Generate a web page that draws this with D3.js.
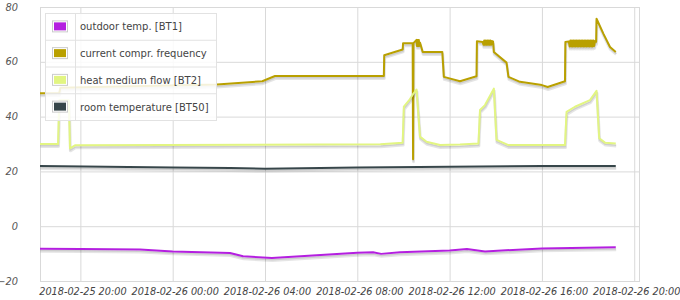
<!DOCTYPE html>
<html>
<head>
<meta charset="utf-8">
<script src="https://cdn.jsdelivr.net/npm/d3@7"></script>
<style>
  body { margin: 0; background: #fff; }
  svg text { font-family: "DejaVu Sans", Verdana, sans-serif; }
</style>
</head>
<body>
<script>
// chart values
var seriesNames = ["outdoor temp. [BT1]", "current compr. frequency", "heat medium flow [BT2]", "room temperature [BT50]"];
var yTicks = [-20, 0, 20, 40, 60, 80];
var xTicks = ["2018-02-25 20:00", "2018-02-26 00:00", "2018-02-26 04:00", "2018-02-26 08:00",
              "2018-02-26 12:00", "2018-02-26 16:00", "2018-02-26 20:00"];
var xDomain = ["2018-02-25 18:15", "2018-02-26 20:15"];

var outdoorTemp = [
  ["2018-02-25 18:15", -8.2], ["2018-02-25 20:00", -8.3], ["2018-02-25 22:35", -8.5],
  ["2018-02-26 00:00", -9.2], ["2018-02-26 02:29", -9.8], ["2018-02-26 03:03", -11.0],
  ["2018-02-26 04:18", -11.6], ["2018-02-26 08:00", -9.7], ["2018-02-26 08:41", -9.5],
  ["2018-02-26 09:02", -10.1], ["2018-02-26 09:51", -9.5], ["2018-02-26 12:00", -8.9],
  ["2018-02-26 12:45", -8.3], ["2018-02-26 13:32", -9.2], ["2018-02-26 16:00", -8.1],
  ["2018-02-26 19:12", -7.7]
];

var comprFrequency = [
  ["2018-02-25 18:15", 48.5], ["2018-02-25 19:05", 48.6], ["2018-02-25 19:08", 50.5],
  ["2018-02-26 01:55", 51.7], ["2018-02-26 03:53", 52.9], ["2018-02-26 04:26", 54.8],
  ["2018-02-26 09:09", 54.8], ["2018-02-26 09:10", 62.4], ["2018-02-26 09:58", 64.5],
  ["2018-02-26 09:59", 66.8], ["2018-02-26 10:24", 66.8], ["2018-02-26 10:25", 24.4],
  ["2018-02-26 10:26", 66.8], ["2018-02-26 10:34", 68.0], ["2018-02-26 10:35", 65.8],
  ["2018-02-26 10:36", 68.0], ["2018-02-26 10:37", 65.8], ["2018-02-26 10:38", 68.0],
  ["2018-02-26 10:39", 65.8], ["2018-02-26 10:40", 68.0], ["2018-02-26 10:41", 65.8],
  ["2018-02-26 10:43", 67.0],
  ["2018-02-26 10:50", 63.6], ["2018-02-26 11:41", 63.6], ["2018-02-26 11:45", 54.5],
  ["2018-02-26 12:27", 52.9], ["2018-02-26 13:10", 54.7], ["2018-02-26 13:11", 67.5],
  ["2018-02-26 13:26", 67.2], ["2018-02-26 13:28", 66.2], ["2018-02-26 13:30", 67.8],
  ["2018-02-26 13:32", 66.2], ["2018-02-26 13:34", 67.8], ["2018-02-26 13:36", 66.2],
  ["2018-02-26 13:38", 67.8], ["2018-02-26 13:40", 66.2], ["2018-02-26 13:42", 67.8],
  ["2018-02-26 13:44", 66.2], ["2018-02-26 13:46", 67.8], ["2018-02-26 13:48", 66.2],
  ["2018-02-26 13:50", 67.6], ["2018-02-26 13:52", 66.4], ["2018-02-26 13:53", 67.4],
  ["2018-02-26 13:55", 63.6], ["2018-02-26 14:28", 59.7], ["2018-02-26 14:33", 54.5],
  ["2018-02-26 15:03", 52.7], ["2018-02-26 16:00", 51.5], ["2018-02-26 16:15", 50.8],
  ["2018-02-26 17:00", 52.9], ["2018-02-26 17:01", 67.2], ["2018-02-26 17:10", 67.4],
  ["2018-02-26 17:12", 65.6], ["2018-02-26 17:14", 67.8], ["2018-02-26 17:16", 65.6],
  ["2018-02-26 17:18", 67.8], ["2018-02-26 17:20", 65.6], ["2018-02-26 17:22", 67.8],
  ["2018-02-26 17:24", 65.6], ["2018-02-26 17:26", 67.8], ["2018-02-26 17:28", 65.6],
  ["2018-02-26 17:30", 67.8], ["2018-02-26 17:32", 65.6], ["2018-02-26 17:34", 67.8],
  ["2018-02-26 17:36", 65.6], ["2018-02-26 17:38", 67.8], ["2018-02-26 17:40", 65.6],
  ["2018-02-26 17:42", 67.8], ["2018-02-26 17:44", 65.6], ["2018-02-26 17:46", 67.8],
  ["2018-02-26 17:48", 65.6], ["2018-02-26 17:50", 67.8], ["2018-02-26 17:52", 65.6],
  ["2018-02-26 17:54", 67.8], ["2018-02-26 17:56", 65.6], ["2018-02-26 17:58", 67.8],
  ["2018-02-26 18:00", 65.6], ["2018-02-26 18:02", 67.8], ["2018-02-26 18:04", 65.6],
  ["2018-02-26 18:06", 67.8], ["2018-02-26 18:08", 65.6], ["2018-02-26 18:10", 67.8],
  ["2018-02-26 18:12", 65.6], ["2018-02-26 18:14", 67.8], ["2018-02-26 18:16", 65.8],
  ["2018-02-26 18:18", 67.6], ["2018-02-26 18:21", 67.3], ["2018-02-26 18:22", 75.7],
  ["2018-02-26 18:40", 70.2], ["2018-02-26 18:57", 65.4], ["2018-02-26 19:12", 63.6]
];

var heatMediumFlow = [
  ["2018-02-25 18:15", 30.0], ["2018-02-25 19:02", 30.0], ["2018-02-25 19:05", 46.0],
  ["2018-02-25 19:30", 46.0], ["2018-02-25 19:33", 28.4], ["2018-02-25 19:46", 29.5],
  ["2018-02-26 09:00", 29.9], ["2018-02-26 09:58", 30.5], ["2018-02-26 10:01", 43.6],
  ["2018-02-26 10:15", 46.0], ["2018-02-26 10:24", 48.0], ["2018-02-26 10:34", 49.9],
  ["2018-02-26 10:43", 32.7], ["2018-02-26 11:00", 30.8], ["2018-02-26 11:35", 29.6],
  ["2018-02-26 12:27", 29.8], ["2018-02-26 13:15", 30.2], ["2018-02-26 13:19", 42.4],
  ["2018-02-26 13:32", 44.2], ["2018-02-26 13:55", 50.2], ["2018-02-26 14:02", 31.5],
  ["2018-02-26 14:33", 29.6], ["2018-02-26 17:00", 29.6], ["2018-02-26 17:04", 41.7],
  ["2018-02-26 17:26", 43.6], ["2018-02-26 18:05", 46.0], ["2018-02-26 18:22", 49.4],
  ["2018-02-26 18:29", 32.1], ["2018-02-26 18:44", 30.5], ["2018-02-26 19:12", 30.2]
];

var roomTemp = [
  ["2018-02-25 18:15", 22.0], ["2018-02-26 00:00", 21.4], ["2018-02-26 02:30", 21.2],
  ["2018-02-26 04:00", 21.0], ["2018-02-26 08:00", 21.4], ["2018-02-26 12:00", 21.7],
  ["2018-02-26 16:00", 22.0], ["2018-02-26 19:12", 22.0]
];

var seriesColors = ["#b41fe0", "#b9a000", "#e2f582", "#37464a"];

// dimensions
var svg_Width = 680;
var svg_Height = 300;
var margin = { top: 7, right: 40, bottom: 19, left: 40 };
var chart_Width = svg_Width - margin.left - margin.right;
var chart_Height = svg_Height - margin.top - margin.bottom;

var parseTime = d3.timeParse("%Y-%m-%d %H:%M");

var svg = d3.select("body")
  .append("svg")
  .attr("width", svg_Width)
  .attr("height", svg_Height);

var chartGroup = svg.append("g")
  .attr("transform", `translate(${margin.left}, ${margin.top})`);

var x = d3.scaleTime()
  .domain(xDomain.map(parseTime))
  .range([0, chart_Width]);
var y = d3.scaleLinear()
  .domain([-20, 80])
  .range([chart_Height, 0]);

var gridColor = "#d9d9d9";

// y axis with gridlines
var yAxis = chartGroup.append("g")
  .call(d3.axisLeft(y).tickValues(yTicks).tickSize(-chart_Width).tickPadding(22));
yAxis.select(".domain").remove();
yAxis.selectAll("line").attr("stroke", gridColor);
yAxis.selectAll("text")
  .attr("font-size", 9.8)
  .attr("font-style", "italic")
  .attr("fill", "#555");

// x axis with gridlines
var xAxis = chartGroup.append("g")
  .attr("transform", `translate(0, ${chart_Height})`)
  .call(d3.axisBottom(x)
    .tickValues(xTicks.map(parseTime))
    .tickSize(-chart_Height)
    .tickPadding(7)
    .tickFormat(d3.timeFormat("%Y-%m-%d %H:%M")));
xAxis.select(".domain").remove();
xAxis.selectAll("line").attr("stroke", gridColor);
xAxis.selectAll("text")
  .attr("font-size", 9.7)
  .attr("font-style", "italic")
  .attr("fill", "#444")
  .attr("dx", 2);

// plot border
chartGroup.append("rect")
  .attr("x", 0.5).attr("y", 0.5)
  .attr("width", chart_Width - 1).attr("height", chart_Height)
  .attr("fill", "none")
  .attr("stroke", gridColor);

chartGroup.append("clipPath").attr("id", "plotclip")
  .append("rect").attr("width", chart_Width).attr("height", chart_Height + 4);

var line = d3.line()
  .x(d => x(parseTime(d[0])))
  .y(d => y(d[1]));

var allSeries = [outdoorTemp, comprFrequency, heatMediumFlow, roomTemp];
var plot = chartGroup.append("g").attr("clip-path", "url(#plotclip)");

// flot style shadow under each line
var angle = Math.PI / 18;
allSeries.forEach(function(data, i) {
  plot.append("path")
    .attr("d", line(data))
    .attr("transform", `translate(${Math.sin(angle) * 2.5}, ${Math.cos(angle) * 2.5})`)
    .attr("fill", "none")
    .attr("stroke", "rgba(0,0,0,0.1)")
    .attr("stroke-width", 3)
    .attr("stroke-linejoin", "round");
  plot.append("path")
    .attr("d", line(data))
    .attr("transform", `translate(${Math.sin(angle) * 1.75}, ${Math.cos(angle) * 1.75})`)
    .attr("fill", "none")
    .attr("stroke", "rgba(0,0,0,0.1)")
    .attr("stroke-width", 1.5)
    .attr("stroke-linejoin", "round");
  plot.append("path")
    .attr("d", line(data))
    .attr("fill", "none")
    .attr("stroke", seriesColors[i])
    .attr("stroke-width", 2)
    .attr("stroke-linejoin", "round");
});

// legend
var rowH = 26.75;
var legend = svg.append("g").attr("transform", "translate(45, 13)");
legend.append("rect")
  .attr("x", 0.5).attr("y", 0.5)
  .attr("width", 171).attr("height", rowH * 4)
  .attr("fill", "#fff").attr("fill-opacity", 0.85)
  .attr("stroke", "#e2e2e2");
legend.append("line")
  .attr("x1", 30.5).attr("x2", 30.5).attr("y1", 0.5).attr("y2", rowH * 4 + 0.5)
  .attr("stroke", "#e2e2e2");

var rows = legend.selectAll("g.row")
  .data(seriesNames)
  .enter()
  .append("g")
  .attr("transform", (d, i) => `translate(0, ${i * rowH})`);

rows.filter((d, i) => i > 0).append("line")
  .attr("x1", 0.5).attr("x2", 171.5).attr("y1", 0.5).attr("y2", 0.5)
  .attr("stroke", "#e2e2e2");
rows.append("rect")
  .attr("x", 7.5).attr("y", rowH / 2 - 5.5)
  .attr("width", 15).attr("height", 11)
  .attr("fill", "#fff").attr("stroke", "#ccc");
rows.append("rect")
  .attr("x", 9).attr("y", rowH / 2 - 4)
  .attr("width", 12).attr("height", 8)
  .attr("fill", (d, i) => seriesColors[i]);
rows.append("text")
  .attr("x", 35).attr("y", rowH / 2 + 0.5)
  .attr("dominant-baseline", "central")
  .attr("font-size", 10)
  .attr("fill", "#444")
  .text(d => d);
</script>
</body>
</html>
